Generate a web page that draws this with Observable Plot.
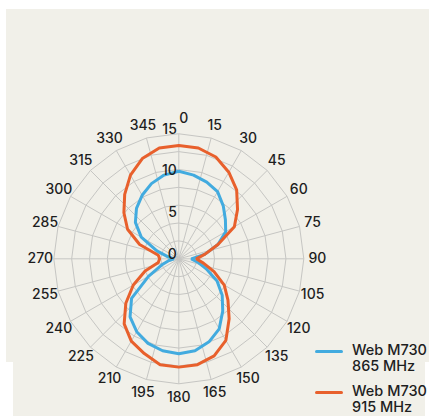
<!DOCTYPE html>
<html>
<head>
<meta charset="utf-8">
<script src="https://cdn.jsdelivr.net/npm/d3@7"></script>
<script src="https://cdn.jsdelivr.net/npm/@observablehq/plot@0.6"></script>
<style>
  html, body { margin: 0; padding: 0; background: #ffffff; }
  #wrap { position: relative; width: 429px; height: 416px; overflow: hidden; font-family: Inter, "Liberation Sans", sans-serif; color: #1e1e1e; }
  .bg1 { position: absolute; left: 6px; top: 9px; width: 423px; height: 353px; background: #f1f0e9; }
  .bg2 { position: absolute; left: 13px; top: 362px; width: 412px; height: 54px; background: #f1f0e9; }
  #chart { position: absolute; left: 0; top: 0; }
  .leg { position: absolute; left: 315px; width: 112px; height: 34px; }
  .leg .sw { position: absolute; left: 0; width: 28px; height: 3px; border-radius: 1.5px; }
  .leg .tx { position: absolute; left: 37px; top: 0; font-size: 14.5px; line-height: 16px; font-weight: 500; white-space: nowrap; }
</style>
</head>
<body>
<div id="wrap">
  <div class="bg1"></div>
  <div class="bg2"></div>
  <div id="chart"></div>
  <div id="legend"></div>
</div>
<script>
// ---- data ----
const angles = [0,10,20,30,40,50,60,70,80,90,100,110,120,130,140,150,160,170,
                180,190,200,210,220,230,240,250,260,270,280,290,300,310,320,330,340,350];
const m730_865 = [10.5,10.2,9.8,9.3,8.3,7.3,6.5,5.0,3.2,1.5,2.3,3.5,5.3,6.8,8.2,9.7,10.6,11.2,
                  11.4,11.2,10.8,10.1,9.1,7.4,4.2,2.2,1.2,0.6,1.3,2.8,5.2,6.8,7.9,8.8,9.6,10.2];
const m730_915 = [13.6,13.5,13.0,12.0,10.8,9.2,7.7,5.0,3.2,2.1,3.0,4.5,6.3,7.7,9.4,11.3,12.4,12.9,
                  13.0,12.9,12.1,11.4,10.2,8.3,6.3,4.3,2.5,2.3,2.5,5.0,7.1,8.6,10.1,11.6,12.8,13.5];
const seriesNames = ["Web M730 865 MHz", "Web M730 915 MHz"];
const seriesLines = [["Web M730", "865 MHz"], ["Web M730", "915 MHz"]];
const seriesColors = ["#42abdf", "#e8602c"];
const angleTicks = [0,15,30,45,60,75,90,105,120,135,150,165,180,195,210,225,240,255,270,285,300,315,330,345];
const radialTicks = [0,5,10,15];
const radialMax = 15;
const ringCount = 7;

// ---- derived geometry (polar -> cartesian, fed through Plot's x/y scales) ----
const rad = d => d * Math.PI / 180;
const toXY = (deg, r) => ({x: r * Math.sin(rad(deg)), y: r * Math.cos(rad(deg))});

const valueSets = [m730_865, m730_915];
const lineData = valueSets.flatMap((vals, s) =>
  angles.map((a, i) => ({series: seriesNames[s], ...toXY(a, vals[i])})));

const ringValues = d3.range(1, ringCount + 1).map(k => radialMax * k / ringCount);
const ringData = ringValues.flatMap(r => angleTicks.map(a => ({ring: r, ...toXY(a, r)})));
const spokeData = angleTicks.map(a => toXY(a, radialMax));
const labelR = radialMax * 138.5 / 125;
const angleLabelData = angleTicks.map(a => ({angle: a, label: String(a), ...toXY(a, labelR)}));
const radialLabelData = radialTicks.map(v => ({label: String(v), x: 0, y: v}));

const textStyle = {fontSize: 14, fontWeight: 500, fill: "#1e1e1e"};

const chart = Plot.plot({
  width: 429,
  height: 416,
  marginLeft: 53.3,
  marginRight: 125.7,
  marginTop: 133.3,
  marginBottom: 32.7,
  x: {domain: [-radialMax, radialMax], axis: null},
  y: {domain: [-radialMax, radialMax], axis: null},
  color: {domain: seriesNames, range: seriesColors},
  style: {background: "transparent", fontFamily: "Inter, 'Liberation Sans', sans-serif", fontSize: "14px", color: "#1e1e1e", overflow: "visible"},
  marks: [
    Plot.line(ringData, {x: "x", y: "y", z: "ring", curve: "linear-closed", stroke: "#c6c6c3", strokeWidth: 1}),
    Plot.link(spokeData, {x1: 0, y1: 0, x2: "x", y2: "y", stroke: "#c6c6c3", strokeWidth: 1}),
    Plot.line(lineData, {x: "x", y: "y", z: "series", stroke: "series", curve: "linear-closed", strokeWidth: 3, strokeLinejoin: "miter"}),
    Plot.text(angleLabelData.filter(d => d.angle !== 0), {x: "x", y: "y", text: "label", textAnchor: "middle", lineAnchor: "middle", ...textStyle}),
    Plot.text(angleLabelData.filter(d => d.angle === 0), {x: "x", y: "y", text: "label", textAnchor: "start", lineAnchor: "middle", dx: 0.5, dy: -2, ...textStyle}),
    Plot.text(radialLabelData, {x: "x", y: "y", text: "label", textAnchor: "end", lineAnchor: "middle", dx: -2, dy: -4.5, ...textStyle})
  ]
});
document.getElementById("chart").appendChild(chart);

// ---- legend ----
const legend = document.getElementById("legend");
const legendTops = [342, 383];
seriesNames.forEach((name, i) => {
  const item = document.createElement("div");
  item.className = "leg";
  item.style.top = legendTops[i] + "px";
  const sw = document.createElement("div");
  sw.className = "sw";
  sw.style.top = "7.5px";
  sw.style.background = seriesColors[i];
  const tx = document.createElement("div");
  tx.className = "tx";
  tx.innerHTML = seriesLines[i].join("<br>");
  item.appendChild(sw);
  item.appendChild(tx);
  legend.appendChild(item);
});
</script>
</body>
</html>
